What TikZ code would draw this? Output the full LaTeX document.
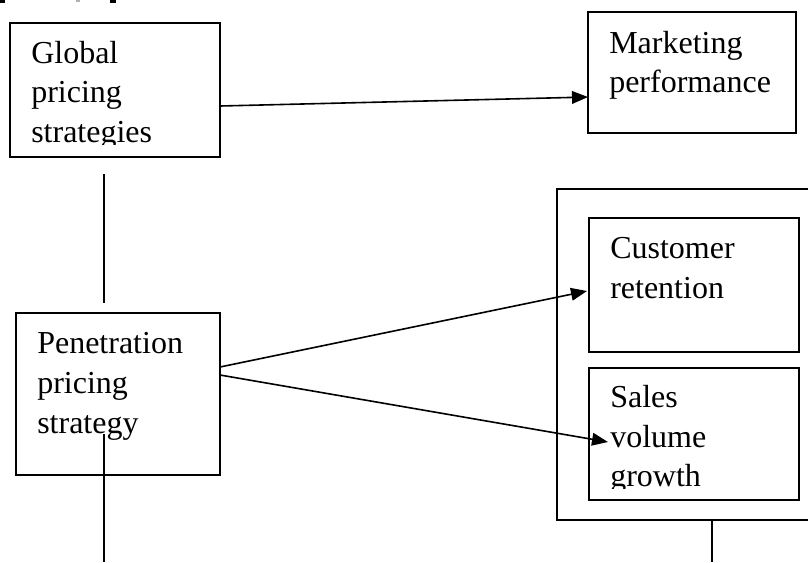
\documentclass[tikz,border=0pt]{standalone}
\usepackage{fontspec}
\setmainfont{Liberation Serif}
\usetikzlibrary{arrows.meta}
\begin{document}
\begin{tikzpicture}[x=0.75pt,y=-0.75pt,
  box/.style={draw,line width=1.3pt,inner sep=0pt,outer sep=0pt,rectangle},
  outerbox/.style={draw,line width=1.7pt,inner sep=0pt,outer sep=0pt,rectangle},
  txt/.style={anchor=base west,inner sep=0pt,font=\fontsize{24}{29.6}\selectfont},
  conn/.style={line width=1.3pt},
  arr/.style={line width=1.2pt,-{Triangle[length=12pt,width=9.5pt]}}]
\useasboundingbox (0,0) rectangle (808,562);
% fragments at top edge
\fill (0,0) rectangle (5,3);
\fill[gray!60] (76,0) rectangle (80,2);
\fill (110,0) rectangle (116,3);
% boxes
\node[box,minimum width=157.5pt,minimum height=100.5pt] (glob) at (115,90) {};
\node[box,minimum width=156pt,minimum height=90.75pt] (mkt) at (692,72.5) {};
\node[box,minimum width=153pt,minimum height=121.5pt] (pen) at (118,394) {};
\node[outerbox,minimum width=191.25pt,minimum height=248.25pt] (outer) at (684.5,354.5) {};
\node[box,minimum width=157.5pt,minimum height=100.5pt] (cust) at (694,285) {};
\node[box,minimum width=157.5pt,minimum height=99pt] (sales) at (694,434) {};
% texts
\begin{scope}
\clip (0,0) rectangle (808,144);
\node[txt] (g1) at (31,63) {Global};
\node[txt] (g2) at (31,102.5) {pricing};
\node[txt] (g3) at (31,142) {strategies};
\end{scope}
\node[txt] (m1) at (609,53) {Marketing};
\node[txt] (m2) at (609,92.5) {performance};
\node[txt] (p1) at (37,353) {Penetration};
\node[txt] (p2) at (37,393) {pricing};
\node[txt] (p3) at (37,433) {strategy};
\node[txt] (c1) at (610,258) {Customer};
\node[txt] (c2) at (610,298) {retention};
\begin{scope}
\clip (0,0) rectangle (808,488);
\node[txt] (s1) at (610,407) {Sales};
\node[txt] (s2) at (610,447) {volume};
\node[txt] (s3) at (610,486.5) {growth};
\end{scope}
% connectors
\draw[arr] ([yshift=-12pt]glob.east) -- ([yshift=-18.4pt]mkt.west);
\draw[arr] ([yshift=20.25pt]pen.east) -- ([yshift=-4.5pt,xshift=-1.5pt]cust.west);
\draw[arr] ([yshift=14.25pt]pen.east) -- ([yshift=-6pt,xshift=14.25pt]sales.west);
\coordinate (ga) at (104,174);
\coordinate (gb) at (104,303);
\draw[conn] (ga) -- (gb);
\coordinate (pa) at (104,434);
\coordinate (pb) at (104,562);
\draw[conn] (pa) -- (pb);
\coordinate (oa) at (712,520);
\coordinate (ob) at (712,562);
\draw[conn] (oa) -- (ob);
\end{tikzpicture}
\end{document}
